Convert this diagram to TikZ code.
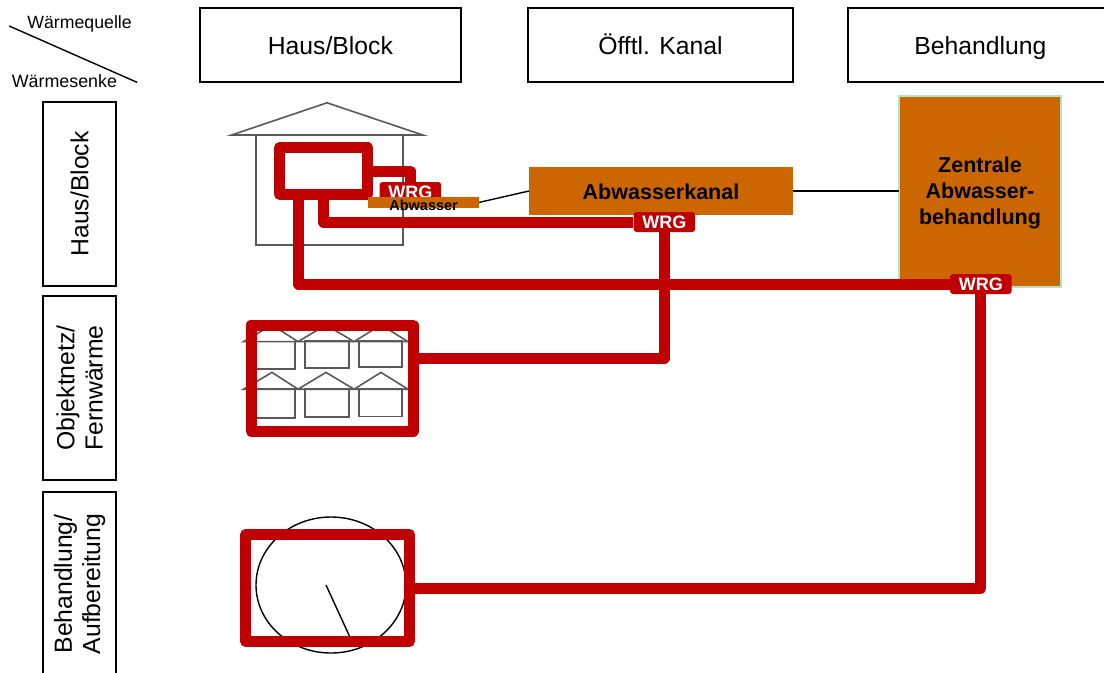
\documentclass[tikz,border=0pt]{standalone}
\usepackage{fontspec}
\setmainfont{Liberation Sans}
\definecolor{pipered}{HTML}{C00000}
\definecolor{sewage}{HTML}{CC6600}
\definecolor{housegray}{HTML}{595959}
\definecolor{plantedge}{HTML}{B5E3C8}
\usetikzlibrary{positioning}
\tikzset{
  headbox/.style={draw,line width=0.035cm,fill=white,align=center,inner sep=0pt,outer sep=0pt,font=\fontsize{17.6}{20}\selectfont},
  colhead/.style={headbox,minimum width=#1,minimum height=1.85cm,text height=0.57cm,text depth=0.1cm},
  rowhead/.style={headbox,rotate=90,minimum width=4.6cm,minimum height=1.825cm},
  sewagebox/.style={fill=sewage,align=center,inner sep=0pt,outer sep=0pt,font=\fontsize{15.3}{18.5}\selectfont\bfseries},
  sinkbox/.style={draw=pipered,line width=0.275cm,line join=round,inner sep=0pt,outer sep=0pt},
  pipe/.style={draw=pipered,line width=0.275cm,line join=round},
  wrgtag/.style={fill=pipered,text=white,rounded corners=0.075cm,inner sep=0pt,minimum width=1.54cm,minimum height=0.5cm,font=\fontsize{12.8}{14}\selectfont\bfseries},
  houseline/.style={draw=housegray,line width=0.04cm},
  thinline/.style={draw=black,line width=0.035cm}
}
\begin{document}
\begin{tikzpicture}
    \useasboundingbox (0,0) rectangle (27.6,-16.8);
    \clip (0,0) rectangle (27.6,-16.8);
    % corner legend
    \coordinate (diagstart) at (0.23,-0.65);
    \coordinate (diagend) at (3.43,-2.06);
    \draw[thinline] (diagstart) -- (diagend);
    \node[font=\fontsize{12.6}{14}\selectfont] (source) at (1.99,-0.6) {Wärmequelle};
    \node[font=\fontsize{12.7}{14}\selectfont] (sink) at (1.61,-2.02) {Wärmesenke};
    % column heads
    \node[colhead=6.525cm] (headhaus) at (8.26,-1.125) {Haus/Block};
    \node[colhead=6.625cm] (headkanal) at (16.51,-1.125) {Öfftl. Kanal};
    \node[colhead=6.625cm] (headbeh) at (24.51,-1.125) {Behandlung};
    % row heads
    \node[rowhead] (rowhaus) at (1.99,-4.85) {Haus/Block};
    \node[rowhead] (rownetz) at (1.99,-9.7) {Objektnetz/\\Fernwärme};
    \node[rowhead] (rowbeh) at (1.99,-14.6) {Behandlung/\\Aufbereitung};
    % single house
    \draw[houseline] (5.79,-3.375) -- (8.175,-2.57) -- (10.57,-3.375) -- cycle;
    \draw[houseline] (6.4,-3.375) rectangle (10.075,-6.125);
    % block of houses
    \draw[houseline] (6.09,-8.54) -- (6.8,-8.125) -- (7.45,-8.54) -- (8.15,-8.125) -- (8.85,-8.54) -- (9.525,-8.125) -- (10.2,-8.54) -- cycle;
    \draw[houseline] (6.3,-8.54) rectangle (7.375,-9.225);
    \draw[houseline] (7.625,-8.525) rectangle (8.72,-9.2);
    \draw[houseline] (8.975,-8.525) rectangle (10.05,-9.175);
    \draw[houseline] (6.09,-9.73) -- (6.8,-9.31) -- (7.45,-9.73) -- (8.15,-9.31) -- (8.85,-9.73) -- (9.525,-9.31) -- (10.2,-9.73) -- cycle;
    \draw[houseline] (6.3,-9.73) rectangle (7.375,-10.45);
    \draw[houseline] (7.625,-9.73) rectangle (8.72,-10.425);
    \draw[houseline] (8.975,-9.73) rectangle (10.05,-10.41);
    % treatment basin
    \draw[thinline] (8.275,-14.625) ellipse (1.875cm and 1.7cm);
    \draw[thinline] (8.15,-14.625) -- (8.74,-15.91);
    % sewage path
    \node[sewagebox,minimum width=6.6cm,minimum height=1.2cm,text height=0.44cm,text depth=0pt] (kanal) at (16.525,-4.775) {Abwasserkanal};
    \node[sewagebox,draw=plantedge,line width=0.05cm,minimum width=4.05cm,minimum height=4.775cm,text depth=0pt] (plant) at (24.5,-4.775) {Zentrale\\Abwasser-\\behandlung};
    \draw[thinline] (kanal.east) -- (plant.west);
    % heat sinks
    \node[sinkbox,minimum width=2.2cm,minimum height=1.175cm] (housesink) at (8.09,-4.275) {};
    \node[sinkbox,minimum width=4.05cm,minimum height=2.65cm] (blocksink) at (8.3,-9.45) {};
    \node[sinkbox,minimum width=4.09cm,minimum height=2.675cm] (treatsink) at (8.19,-14.7) {};
    % recovery units
    \node[wrgtag] (wrghaus) at (10.26,-4.8) {WRG};
    \node[wrgtag] (wrgkanal) at (16.61,-5.55) {WRG};
    \node[wrgtag] (wrgplant) at (24.52,-7.1) {WRG};
    % pipes
    \draw[pipe] (housesink.east) -| (wrghaus.north);
    \draw[pipe] (housesink.south) |- (wrgkanal.west);
    \draw[pipe] ([xshift=-0.625cm]housesink.south) |- (wrgplant.west);
    \draw[pipe] (wrgkanal.south) |- ([yshift=0.5cm]blocksink.east);
    \draw[pipe] (wrgplant.south) |- (treatsink.east);
    % house drain
    \node[fill=sewage,inner sep=0pt,outer sep=0pt,minimum width=2.775cm,minimum height=0.275cm,font=\fontsize{10.3}{12}\selectfont\bfseries] (drain) at (10.59,-5.06) {\raisebox{-1ex}[0pt][0pt]{Abwasser}};
    \draw[thinline] (drain.east) -- (kanal.west);
\end{tikzpicture}
\end{document}
